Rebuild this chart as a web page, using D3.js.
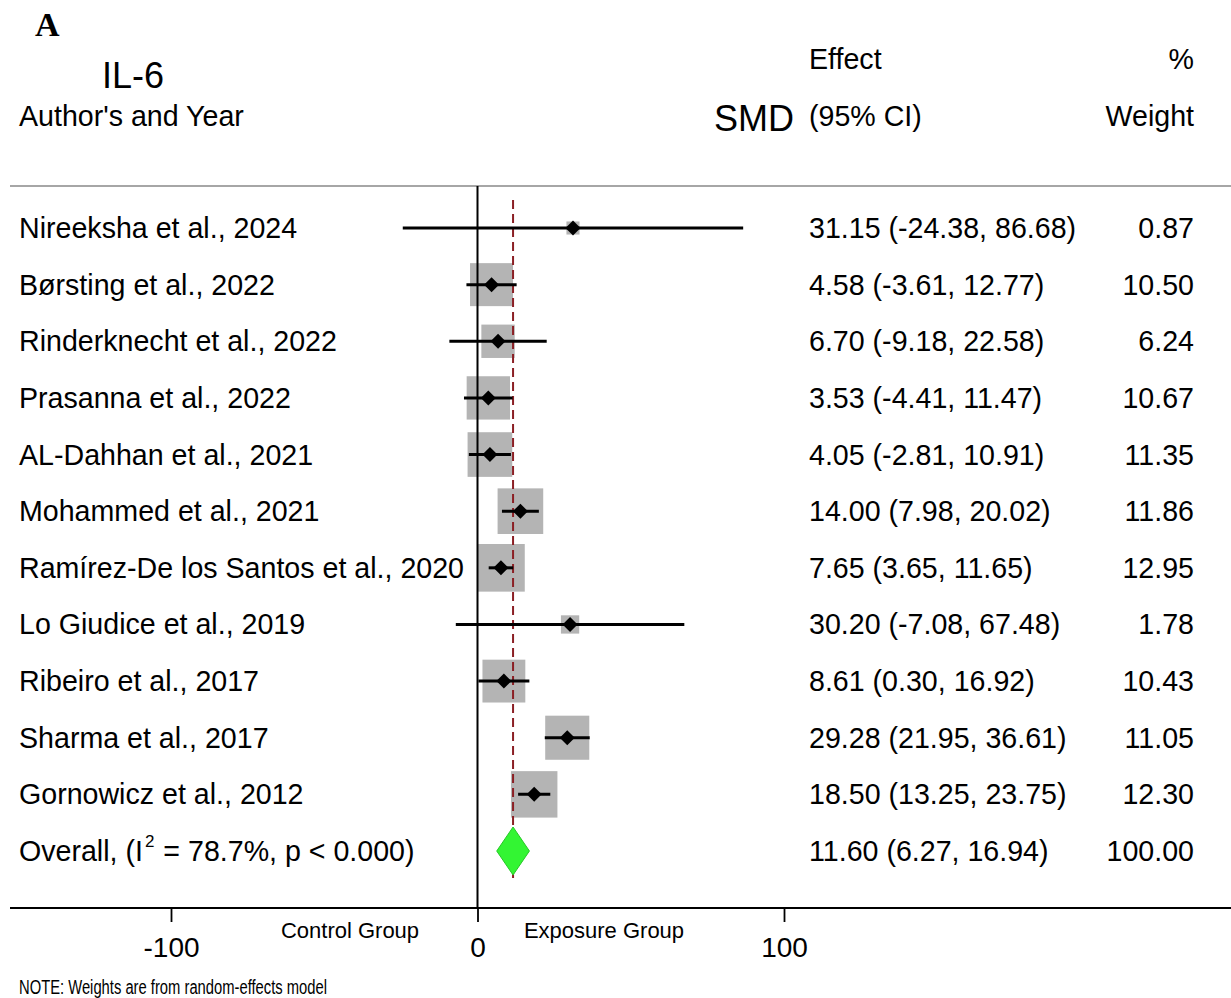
<!DOCTYPE html>
<html>
<head>
<meta charset="utf-8">
<script src="https://cdn.jsdelivr.net/npm/d3@7/dist/d3.min.js"></script>
<style>
  html, body { margin: 0; padding: 0; background: #fff; }
  svg { display: block; }
  text { font-family: "Liberation Sans", Arial, sans-serif; fill: #000; }
</style>
</head>
<body>
<svg id="chart" width="1231" height="998"></svg>
<script>
// ---- data ----
const studies = [
  "Nireeksha et al., 2024",
  "Børsting et al., 2022",
  "Rinderknecht et al., 2022",
  "Prasanna et al., 2022",
  "AL-Dahhan et al., 2021",
  "Mohammed et al., 2021",
  "Ramírez-De los Santos et al., 2020",
  "Lo Giudice et al., 2019",
  "Ribeiro et al., 2017",
  "Sharma et al., 2017",
  "Gornowicz et al., 2012"
];
const smd     = [31.15, 4.58, 6.70, 3.53, 4.05, 14.00, 7.65, 30.20, 8.61, 29.28, 18.50];
const ciLow   = [-24.38, -3.61, -9.18, -4.41, -2.81, 7.98, 3.65, -7.08, 0.30, 21.95, 13.25];
const ciHigh  = [86.68, 12.77, 22.58, 11.47, 10.91, 20.02, 11.65, 67.48, 16.92, 36.61, 23.75];
const weights = [0.87, 10.50, 6.24, 10.67, 11.35, 11.86, 12.95, 1.78, 10.43, 11.05, 12.30];
const overall = { label: "Overall", est: 11.60, lo: 6.27, hi: 16.94, weight: 100.00, i2: "78.7%", p: "0.000" };
const xTicks = [-100, 0, 100];

// ---- layout ----
const locale = d3.formatLocale({ decimal: ".", thousands: ",", grouping: [3], currency: ["", ""], minus: "-" });
const fmt = locale.format(".2f");
const fmtTick = locale.format("d");
const FS = "28.6px";

const svg = d3.select("#chart");
const x = d3.scaleLinear().domain([-100, 100]).range([171, 784]);
const rowKeys = studies.concat(["__overall__"]);
const y = d3.scalePoint().domain(rowKeys).range([228, 851]);
const boxK = 12.96;

// Panel letter
svg.append("text").attr("x", 35).attr("y", 36)
  .style("font-family", '"Liberation Serif", "Times New Roman", serif')
  .style("font-weight", "bold").style("font-size", "34px").text("A");

// Headers
svg.append("text").attr("x", 102).attr("y", 88).style("font-size", "36px").text("IL-6");
svg.append("text").attr("x", 19).attr("y", 126).style("font-size", FS).text("Author's and Year");
svg.append("text").attr("x", 809).attr("y", 69).style("font-size", FS).text("Effect");
svg.append("text").attr("x", 794).attr("y", 131).attr("text-anchor", "end").style("font-size", "36px").text("SMD");
svg.append("text").attr("x", 809).attr("y", 126).style("font-size", FS).text("(95% CI)");
svg.append("text").attr("x", 1194).attr("y", 69).attr("text-anchor", "end").style("font-size", FS).text("%");
svg.append("text").attr("x", 1194).attr("y", 126).attr("text-anchor", "end").style("font-size", FS).text("Weight");

// Top rule
svg.append("line").attr("x1", 10).attr("x2", 1231).attr("y1", 186).attr("y2", 186)
  .attr("stroke", "#a6a6a6").attr("stroke-width", 2);

// Data rows
const rows = studies.map((s, i) => ({ name: s, est: smd[i], lo: ciLow[i], hi: ciHigh[i], w: weights[i] }));
const side = d => boxK * Math.sqrt(d.w) + 1;

const plot = svg.append("g");

// boxes
plot.selectAll("rect.box").data(rows).join("rect").attr("class", "box")
  .attr("x", d => x(d.est) - side(d) / 2)
  .attr("y", d => y(d.name) - side(d) / 2)
  .attr("width", side)
  .attr("height", side)
  .attr("fill", "#b4b4b4");

// zero line
plot.append("line").attr("x1", x(0)).attr("x2", x(0)).attr("y1", 186).attr("y2", 908)
  .attr("stroke", "#000").attr("stroke-width", 2);

// overall dashed line
plot.append("line").attr("x1", x(overall.est)).attr("x2", x(overall.est))
  .attr("y1", 200).attr("y2", 878)
  .attr("stroke", "#8b1f24").attr("stroke-width", 2).attr("stroke-dasharray", "9,5");

// CI lines
plot.selectAll("line.ci").data(rows).join("line").attr("class", "ci")
  .attr("x1", d => x(d.lo)).attr("x2", d => x(d.hi))
  .attr("y1", d => y(d.name)).attr("y2", d => y(d.name))
  .attr("stroke", "#000").attr("stroke-width", 3);

// point markers
plot.selectAll("path.pt").data(rows).join("path").attr("class", "pt")
  .attr("d", d => {
    const cx = x(d.est), cy = y(d.name), r = 7.5;
    return `M${cx},${cy - r}L${cx + r},${cy}L${cx},${cy + r}L${cx - r},${cy}Z`;
  })
  .attr("fill", "#000");

// overall diamond
const oy = y("__overall__");
plot.append("path")
  .attr("d", `M${x(overall.lo)},${oy}L${x(overall.est)},${oy - 24}L${x(overall.hi)},${oy}L${x(overall.est)},${oy + 24}Z`)
  .attr("fill", "#33f533").attr("stroke", "#26c826").attr("stroke-width", 1);

// row labels
svg.selectAll("text.lbl").data(rows).join("text").attr("class", "lbl")
  .attr("x", 19).attr("y", d => y(d.name) + 10).style("font-size", FS).text(d => d.name);
svg.selectAll("text.eff").data(rows).join("text").attr("class", "eff")
  .attr("x", 809).attr("y", d => y(d.name) + 10).style("font-size", FS)
  .text(d => `${fmt(d.est)} (${fmt(d.lo)}, ${fmt(d.hi)})`);
svg.selectAll("text.wt").data(rows).join("text").attr("class", "wt")
  .attr("x", 1194).attr("y", d => y(d.name) + 10).attr("text-anchor", "end").style("font-size", FS)
  .text(d => fmt(d.w));

// overall text
const ot = svg.append("text").attr("x", 19).attr("y", oy + 10).style("font-size", FS);
ot.append("tspan").text("Overall, (I");
ot.append("tspan").attr("dx", 2).attr("dy", -14).style("font-size", "17px").text("2");
ot.append("tspan").attr("dx", 1).attr("dy", 14).text(` = ${overall.i2}, p < ${overall.p})`);
svg.append("text").attr("x", 809).attr("y", oy + 10).style("font-size", FS)
  .text(`${fmt(overall.est)} (${fmt(overall.lo)}, ${fmt(overall.hi)})`);
svg.append("text").attr("x", 1194).attr("y", oy + 10).attr("text-anchor", "end").style("font-size", FS)
  .text(fmt(overall.weight));

// x axis
svg.append("line").attr("x1", 10).attr("x2", 1231).attr("y1", 908).attr("y2", 908)
  .attr("stroke", "#000").attr("stroke-width", 2.2);
const ax = svg.append("g").attr("transform", "translate(0,908)")
  .call(d3.axisBottom(x).tickValues(xTicks).tickSize(14).tickPadding(15).tickFormat(fmtTick));
ax.select(".domain").remove();
ax.selectAll(".tick line").attr("stroke", "#000").attr("stroke-width", 1.8);
ax.selectAll(".tick text").style("font-size", "28px").style("font-family", '"Liberation Sans", Arial, sans-serif').attr("fill", "#000");

svg.append("text").attr("x", 350).attr("y", 938).attr("text-anchor", "middle").style("font-size", "22px").text("Control Group");
svg.append("text").attr("x", 604).attr("y", 938).attr("text-anchor", "middle").style("font-size", "22px").text("Exposure Group");

svg.append("text").attr("x", 19).attr("y", 994).style("font-size", "20px")
  .attr("textLength", 308).attr("lengthAdjust", "spacingAndGlyphs")
  .text("NOTE: Weights are from random-effects model");
</script>
</body>
</html>
